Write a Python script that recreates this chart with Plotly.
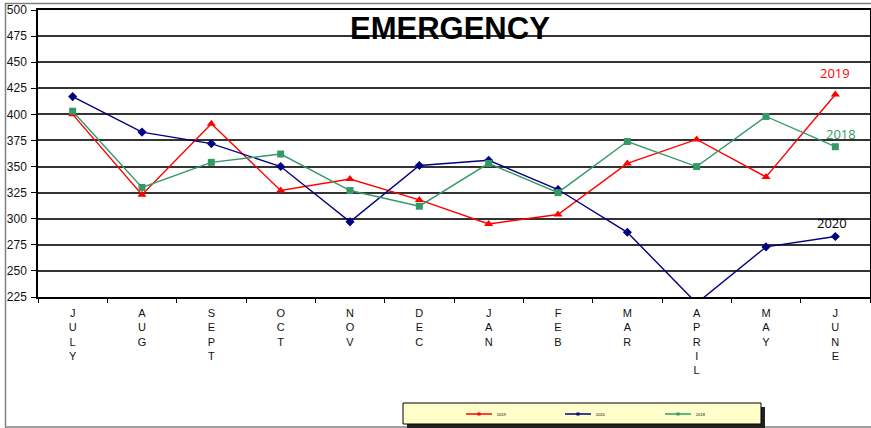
import plotly.graph_objects as go

months = ["JULY", "AUG", "SEPT", "OCT", "NOV", "DEC", "JAN", "FEB", "MAR", "APRIL", "MAY", "JUNE"]
tick_text = ["<br>".join(list(m)) for m in months]

series_2019 = [400, 323, 391, 327, 338, 318, 295, 304, 353, 376, 340, 419]
series_2020 = [417, 383, 372, 350, 297, 351, 356, 328, 287, 219, 273, 283]
series_2018 = [403, 330, 354, 362, 327, 312, 353, 325, 374, 350, 398, 369]
series_names = ["2019", "2020", "2018"]

y_ticks = list(range(225, 501, 25))

RED = "#FF0000"
BLUE = "#000080"
GREEN = "#339966"

fig = go.Figure()
fig.add_trace(go.Scatter(x=months, y=series_2019, name="2019", mode="lines+markers",
                         line=dict(color=RED, width=1.4),
                         marker=dict(symbol="triangle-up", size=8, color=RED)))
fig.add_trace(go.Scatter(x=months, y=series_2020, name="2020", mode="lines+markers",
                         line=dict(color=BLUE, width=1.4),
                         marker=dict(symbol="diamond", size=7, color=BLUE)))
fig.add_trace(go.Scatter(x=months, y=series_2018, name="2018", mode="lines+markers",
                         line=dict(color=GREEN, width=1.4),
                         marker=dict(symbol="square", size=7, color=GREEN)))

W, H = 871, 428
L, R, T, B = 38, 1, 10, 131
pw, ph = W - L - R, H - T - B


def px_x(x):
    return (x - L) / pw


def px_y(y):
    return (H - B - y) / ph


shapes = [
    # outer border
    dict(type="rect", xref="paper", yref="paper", x0=px_x(5.5), x1=px_x(880), y0=px_y(427), y1=px_y(3.5),
         line=dict(color="#808080", width=1.5), layer="below"),
    # legend shadow
    dict(type="rect", xref="paper", yref="paper", x0=px_x(407), x1=px_x(765), y0=px_y(428), y1=px_y(407),
         line=dict(width=0), fillcolor="#222222", layer="above"),
    # legend box
    dict(type="rect", xref="paper", yref="paper", x0=px_x(403), x1=px_x(761), y0=px_y(424), y1=px_y(403),
         line=dict(color="#000000", width=1), fillcolor="#FFFFCC", layer="above"),
]

annotations = [
    dict(text="<b>EMERGENCY</b>", xref="paper", yref="paper", x=px_x(450), y=px_y(28),
         showarrow=False, font=dict(family="Arial, Liberation Sans", size=31, color="#000000"),
         xanchor="center", yanchor="middle"),
    dict(text="2019", x="JUNE", y=series_2019[-1], xref="x", yref="y", showarrow=False,
         yshift=22, xshift=0, font=dict(family="Open Sans, Arial", size=13, color=RED)),
    dict(text="2018", x="JUNE", y=series_2018[-1], xref="x", yref="y", showarrow=False,
         yshift=13, xshift=6, font=dict(family="Open Sans, Arial", size=13, color=GREEN)),
    dict(text="2020", x="JUNE", y=series_2020[-1], xref="x", yref="y", showarrow=False,
         yshift=13, xshift=-3, font=dict(family="Open Sans, Arial", size=13, color="#000000")),
]

# hand-drawn legend (keeps plot margins fixed)
legend_colors = [RED, BLUE, GREEN]
legend_x0 = [466, 565, 665]
ly = 414
for name, col, x0 in zip(series_names, legend_colors, legend_x0):
    shapes.append(dict(type="line", xref="paper", yref="paper", x0=px_x(x0), x1=px_x(x0 + 26),
                       y0=px_y(ly), y1=px_y(ly), line=dict(color=col, width=1.5), layer="above"))
    cx = x0 + 13
    shapes.append(dict(type="rect", xref="paper", yref="paper", x0=px_x(cx - 1.5), x1=px_x(cx + 1.5),
                       y0=px_y(ly + 1.5), y1=px_y(ly - 1.5), line=dict(width=0), fillcolor=col,
                       layer="above"))
    annotations.append(dict(text=name, xref="paper", yref="paper", x=px_x(x0 + 29), y=px_y(ly),
                            xanchor="left", yanchor="middle", showarrow=False,
                            font=dict(family="Arial", size=4, color="#000000")))

fig.update_layout(
    width=W, height=H,
    margin=dict(l=L, r=R, t=T, b=B, pad=0, autoexpand=False),
    paper_bgcolor="white", plot_bgcolor="white",
    showlegend=False,
    shapes=shapes,
    annotations=annotations,
    font=dict(family="Arial, Liberation Sans", size=11, color="#000000"),
)

fig.update_xaxes(
    type="category", tickmode="array", tickvals=months, ticktext=tick_text,
    tickson="boundaries", ticks="outside", ticklen=4, tickcolor="#000000",
    showline=True, linecolor="#000000", linewidth=1.5, mirror=True,
    showgrid=False, tickfont=dict(family="Arial, Liberation Sans", size=11, color="#111111"),
    tickangle=0, range=[-0.5, 11.5], automargin=False, ticklabelstandoff=5,
)
fig.update_yaxes(
    range=[225, 500], tickmode="array", tickvals=y_ticks,
    ticks="outside", ticklen=5, tickcolor="#000000",
    showline=True, linecolor="#000000", linewidth=1.5, mirror=True,
    showgrid=True, gridcolor="#333333", gridwidth=1.5,
    tickfont=dict(family="Arial, Liberation Sans", size=12, color="#111111"),
    zeroline=False, automargin=False, ticklabelstandoff=2,
)

fig.write_html("out.html", config={"displayModeBar": False},
               post_script="document.body.style.margin='0';document.body.style.overflow='hidden';")
